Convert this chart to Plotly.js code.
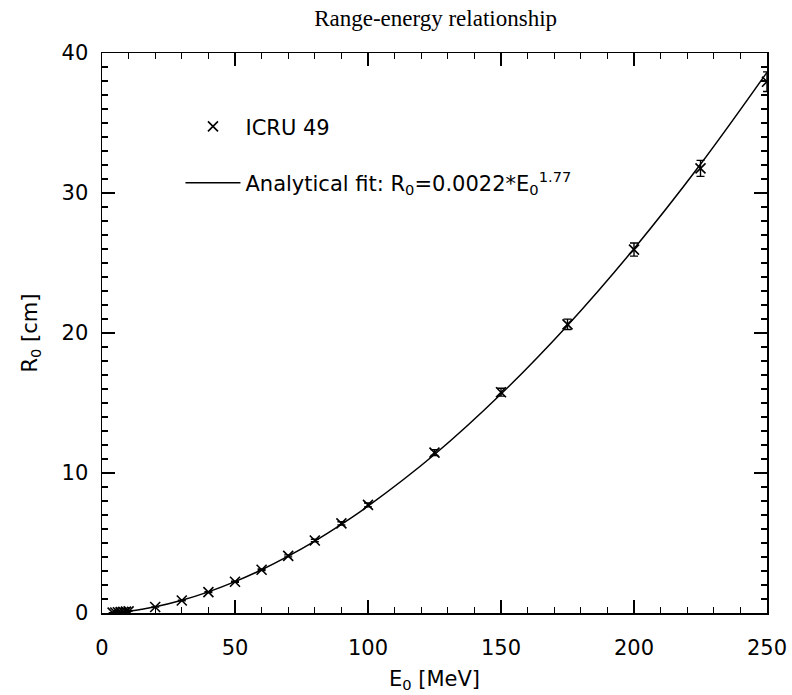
<!DOCTYPE html>
<html>
<head>
<meta charset="utf-8">
<script src="https://cdn.plot.ly/plotly-3.0.1.min.js"></script>
<style>html,body{margin:0;padding:0;background:#fff;}#chart{width:792px;height:695px;}</style>
</head>
<body>
<div id="chart"></div>
<script>
// ICRU 49 tabulated points (energy in MeV, range in cm)
var icruEnergy = [4, 5, 6, 7, 8, 9, 10, 20, 30, 40, 50, 60, 70, 80, 90, 100, 125, 150, 175, 200, 225, 250];
var icruRange  = [0.025, 0.036, 0.050, 0.065, 0.082, 0.10, 0.12, 0.43, 0.89, 1.49, 2.23, 3.09, 4.08, 5.18, 6.40, 7.72, 11.46, 15.77, 20.62, 25.96, 31.76, 37.95];
var icruError  = [0.0005, 0.0007, 0.001, 0.001, 0.0015, 0.002, 0.002, 0.008, 0.016, 0.027, 0.04, 0.056, 0.073, 0.093, 0.115, 0.14, 0.21, 0.28, 0.37, 0.47, 0.57, 0.70];

// Analytical fit curve
var fitEnergy = [4, 10, 15, 20, 30, 40, 50, 60, 70, 80, 90, 100, 125, 150, 175, 200, 225, 250];
var fitRange  = [0.026, 0.13, 0.27, 0.44, 0.91, 1.51, 2.24, 3.09, 4.06, 5.14, 6.33, 7.63, 11.32, 15.64, 20.54, 26.02, 32.05, 38.62];

var chartTitle = 'Range-energy relationship';
var xTitle = 'E<sub>0</sub> [MeV]';
var yTitle = 'R<sub>0</sub> [cm]';
var legendPoints = 'ICRU 49';
var legendFit = 'Analytical fit: R<sub>0</sub>=0.0022*E<sub>0</sub><sup>1.77</sup>';

var axisFont = {family: 'DejaVu Sans, sans-serif', size: 21, color: '#000'};

var traces = [
  {
    x: icruEnergy, y: icruRange, type: 'scatter', mode: 'markers', name: legendPoints,
    legendgroup: 'a', legendrank: 1,
    marker: {symbol: 'x-thin-open', size: 10, color: '#000', line: {color: '#000', width: 1.6}},
    error_y: {type: 'data', array: icruError, visible: true, color: '#000', thickness: 1.4, width: 4}
  },
  {
    x: fitEnergy, y: fitRange, type: 'scatter', mode: 'lines', name: legendFit,
    legendgroup: 'b', legendrank: 2,
    line: {color: '#000', width: 1.5, shape: 'spline'}
  }
];

var layout = {
  width: 792, height: 695,
  paper_bgcolor: '#fff', plot_bgcolor: '#fff',
  margin: {l: 102, r: 25, t: 53, b: 82},
  title: {text: chartTitle, font: {family: 'Liberation Serif, Times New Roman, serif', size: 23, color: '#000'},
          x: 0.55, xanchor: 'center', y: 0.974, yanchor: 'middle'},
  showlegend: true,
  legend: {x: 0.118, y: 0.905, xanchor: 'left', yanchor: 'top', bgcolor: 'rgba(0,0,0,0)',
           font: {family: 'DejaVu Sans, sans-serif', size: 21, color: '#000'},
           itemwidth: 55, tracegroupgap: 26, traceorder: 'grouped'},
  xaxis: {
    range: [0, 250], tickvals: [0, 50, 100, 150, 200, 250], ticktext: ['0', '50', '100', '150', '200', '250'],
    ticks: 'inside', ticklen: 13, tickwidth: 1.3, tickcolor: '#000',
    minor: {dtick: 10, ticks: 'inside', ticklen: 6, tickwidth: 1.2, tickcolor: '#000'},
    showline: true, linecolor: '#000', linewidth: 1.5, mirror: 'ticks',
    showgrid: false, zeroline: false, tickfont: axisFont, ticklabelstandoff: 15,
    title: {text: xTitle, font: axisFont, standoff: 12}
  },
  yaxis: {
    range: [0, 40], tickvals: [0, 10, 20, 30, 40], ticktext: ['0', '10', '20', '30', '40'],
    ticks: 'inside', ticklen: 13, tickwidth: 1.3, tickcolor: '#000',
    minor: {dtick: 1, ticks: 'inside', ticklen: 6, tickwidth: 1.2, tickcolor: '#000'},
    showline: true, linecolor: '#000', linewidth: 1.5, mirror: 'ticks',
    showgrid: false, zeroline: false, tickfont: axisFont, ticklabelstandoff: 8,
    title: {text: yTitle, font: axisFont, standoff: 18}
  }
};

Plotly.newPlot('chart', traces, layout, {displayModeBar: false, staticPlot: true});
</script>
</body>
</html>
